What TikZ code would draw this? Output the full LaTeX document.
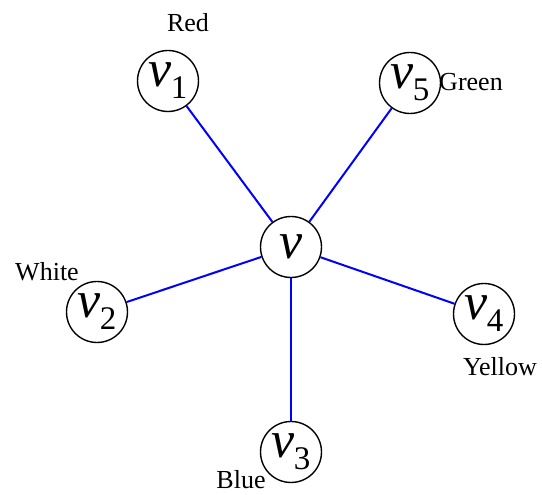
\documentclass[tikz,border=0pt]{standalone}
\usepackage{fontspec}
\setmainfont{Liberation Serif}
\newcommand{\vlab}[1]{{\fontsize{52}{52}\selectfont\itshape v}\kern-1pt\raisebox{-12pt}{\fontsize{33}{33}\selectfont #1}}
\begin{document}
\begin{tikzpicture}[x=1pt,y=1pt,
  vert/.style={circle,draw=black,line width=1.4pt,minimum size=61pt,inner sep=0pt,fill=white},
  edge/.style={draw=blue,line width=2pt},
  colorlab/.style={font=\fontsize{26}{26}\selectfont,inner sep=0pt}]
\useasboundingbox (0,0) rectangle (542,495);
\node[vert] (v)  at (291,248) {{\fontsize{52}{52}\selectfont\itshape v}};
\node[vert] (v1) at (168,414) {\vlab{1}};
\node[vert] (v5) at (410,412) {\vlab{5}};
\node[vert] (v2) at (97,183)  {\vlab{2}};
\node[vert] (v4) at (484,181) {\vlab{4}};
\node[vert] (v3) at (291,43)  {\vlab{3}};
\draw[edge] (v) -- (v1);
\draw[edge] (v) -- (v5);
\draw[edge] (v) -- (v2);
\draw[edge] (v) -- (v4);
\draw[edge] (v) -- (v3);
\node[colorlab] (lred) at (188,472) {Red};
\node[colorlab] (lgreen) at (471,413) {Green};
\node[colorlab] (lwhite) at (47,223) {White};
\node[colorlab] (lyellow) at (500,128) {Yellow};
\node[colorlab] (lblue) at (241,15) {Blue};
\end{tikzpicture}
\end{document}
